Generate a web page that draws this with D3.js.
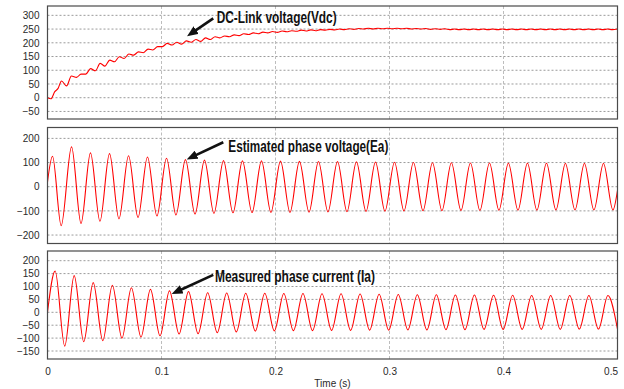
<!DOCTYPE html>
<html>
<head>
<meta charset="utf-8">
<script src="https://cdn.jsdelivr.net/npm/d3@7"></script>
<style>
  body { margin: 0; background: #fff; }
  svg { display: block; }
  text { font-family: "Liberation Sans Narrow", "Arial Narrow", "Liberation Sans", sans-serif; }
</style>
</head>
<body>
<div id="chart"></div>
<script>
// ---- data (time in s) ----
const xTicks = [0, 0.1, 0.2, 0.3, 0.4, 0.5];
const xTitle = 'Time (s)';

// DC-link voltage: ripple peaks and troughs
const vdcTime = [0, 0.0030, 0.0064, 0.0093, 0.0123, 0.0167, 0.0210, 0.0255, 0.0294, 0.0336,
  0.0378, 0.0420, 0.0462, 0.0504, 0.0546, 0.0588, 0.0630, 0.0672, 0.0714, 0.0756,
  0.0798, 0.0840, 0.0882, 0.0924, 0.0966, 0.1008, 0.1050, 0.1092, 0.1134, 0.1176,
  0.1218, 0.1260, 0.1302, 0.1344, 0.1386, 0.1428, 0.1470, 0.1512, 0.1554, 0.1596,
  0.1638, 0.1680, 0.1722, 0.1764, 0.1806, 0.1848, 0.1890, 0.1932, 0.1974, 0.2016,
  0.2058, 0.2100, 0.2142, 0.2184, 0.2226, 0.2268, 0.2310, 0.2352, 0.2394, 0.2436,
  0.2478, 0.2520, 0.2562, 0.2604, 0.2646, 0.2688, 0.2730, 0.2772, 0.2814, 0.2856,
  0.2898, 0.2940, 0.2982, 0.3024, 0.3066, 0.3108, 0.3150, 0.3192, 0.3234, 0.3276,
  0.3318, 0.3360, 0.3402, 0.3444, 0.3486, 0.3528, 0.3570, 0.3612, 0.3654, 0.3696,
  0.3738, 0.3780, 0.3822, 0.3864, 0.3906, 0.3948, 0.3990, 0.4032, 0.4074, 0.4116,
  0.4158, 0.4200, 0.4242, 0.4284, 0.4326, 0.4368, 0.4410, 0.4452, 0.4494, 0.4536,
  0.4578, 0.4620, 0.4662, 0.4704, 0.4746, 0.4788, 0.4830, 0.4872, 0.4914, 0.4956, 0.4998];
const vdcValue = [0, -4, 22, 34, 61, 43, 79, 74, 86, 86,
  106, 98, 125, 115, 137, 131, 149, 143, 159, 155,
  167, 164, 177, 174, 186, 186, 198, 192, 202, 195,
  207, 202, 212, 205, 218, 212, 222, 218, 225, 222,
  229, 226, 233, 230, 236, 233, 239, 236, 241, 238,
  243, 240, 244, 242, 246, 243, 247, 244, 248, 246,
  249, 247, 250, 248, 251, 249, 252, 250, 253, 250,
  253, 251, 253, 251, 253, 251, 253, 250, 252, 250,
  252, 249, 251, 249, 251, 248, 250, 248, 250, 248,
  250, 248, 250, 248, 250, 248, 250, 248, 250, 248,
  250, 248, 250, 248, 250, 248, 250, 248, 250, 248,
  250, 248, 250, 248, 250, 248, 250, 248, 250, 248, 250];
const vdcTicks = [300, 250, 200, 150, 100, 50, 0, -50];

// estimated phase voltage: start, alternating peaks / troughs, end
const eaTime = [0, 0.0044, 0.0120, 0.0211, 0.0294, 0.0377, 0.0460, 0.0544, 0.0627, 0.0711, 0.0794,
  0.0877, 0.0960, 0.1044, 0.1127, 0.1210, 0.1294, 0.1377, 0.1460, 0.1544, 0.1627,
  0.1710, 0.1794, 0.1877, 0.1960, 0.2044, 0.2127, 0.2210, 0.2294, 0.2377, 0.2460,
  0.2544, 0.2627, 0.2710, 0.2794, 0.2877, 0.2960, 0.3044, 0.3127, 0.3210, 0.3294,
  0.3377, 0.3460, 0.3543, 0.3627, 0.3710, 0.3793, 0.3877, 0.3960, 0.4043, 0.4127,
  0.4210, 0.4293, 0.4377, 0.4460, 0.4543, 0.4627, 0.4710, 0.4793, 0.4877, 0.4960, 0.5];
const eaValue = [20, 126, -161, 165, -152, 140, -143, 137, -133, 128, -127,
  123, -121, 118, -117, 112, -113, 110, -110, 108, -108,
  107, -107, 107, -106, 106, -106, 105, -105, 104, -104,
  104, -103, 103, -102, 102, -101, 101, -100, 100, -99,
  99, -99, 99, -98, 98, -98, 98, -97, 97, -97,
  97, -97, 97, -96, 96, -96, 96, -96, 96, -96, -15];
const eaTicks = [200, 100, 0, -100, -200];

// measured phase current: start, alternating peaks / troughs
const iaTime = [0, 0.0067, 0.0151, 0.0234, 0.0318, 0.0401, 0.0485, 0.0569, 0.0653, 0.0736, 0.0820,
  0.0903, 0.0987, 0.1070, 0.1154, 0.1237, 0.1321, 0.1405, 0.1489, 0.1572, 0.1656,
  0.1739, 0.1823, 0.1906, 0.1990, 0.2073, 0.2157, 0.2241, 0.2325, 0.2408, 0.2492,
  0.2575, 0.2659, 0.2742, 0.2826, 0.2909, 0.2993, 0.3077, 0.3161, 0.3244, 0.3328,
  0.3411, 0.3495, 0.3578, 0.3662, 0.3745, 0.3829, 0.3913, 0.3997, 0.4080, 0.4164,
  0.4247, 0.4331, 0.4414, 0.4498, 0.4581, 0.4665, 0.4749, 0.4833, 0.4916, 0.5000];
const iaValue = [0, 160, -131, 142, -114, 115, -110, 105, -100, 95, -96,
  89, -91, 83, -84, 80, -83, 76, -79, 75, -76,
  74, -73, 74, -72, 73, -71, 73, -71, 72, -70,
  72, -70, 71, -69, 70, -69, 69, -68, 68, -68,
  68, -67, 67, -67, 67, -66, 66, -66, 66, -66,
  65, -66, 65, -66, 65, -65, 65, -65, 65, -65];
const iaTicks = [200, 150, 100, 50, 0, -50, -100, -150];

const labels = ['DC-Link voltage(Vdc)', 'Estimated phase voltage(Ea)', 'Measured phase current (Ia)'];

// ---- layout ----
const width = 624;
const height = 389;
const left = 47.5;
const right = 617.5;

const panels = [
  { top: 6, bottom: 119, domain: [-77.5, 334], ticks: vdcTicks, t: vdcTime, v: vdcValue,
    note: { text: labels[0], tail: [0.1454, 289], tip: [0.1224, 224], at: [0.1484, 271], len: 120 } },
  { top: 127.5, bottom: 243.5, domain: [-235, 245], ticks: eaTicks, t: eaTime, v: eaValue,
    note: { text: labels[1], tail: [0.1542, 184], tip: [0.1221, 113], at: [0.1586, 143], len: 160 } },
  { top: 251, bottom: 359, domain: [-181, 237.6], ticks: iaTicks, t: iaTime, v: iaValue,
    note: { text: labels[2], tail: [0.1454, 145], tip: [0.1089, 71], at: [0.1469, 119], len: 160 } },
];

const svg = d3.select('#chart').append('svg')
  .attr('width', width)
  .attr('height', height);

const defs = svg.append('defs');
defs.append('marker')
  .attr('id', 'head')
  .attr('markerUnits', 'userSpaceOnUse')
  .attr('viewBox', '0 0 11 9')
  .attr('markerWidth', 11)
  .attr('markerHeight', 9)
  .attr('refX', 11)
  .attr('refY', 4.5)
  .attr('orient', 'auto')
  .append('path')
  .attr('d', 'M0,0L11,4.5L0,9Z')
  .attr('fill', '#111');

const x = d3.scaleLinear().domain([0, 0.5]).range([left, right]);

panels.forEach((p, i) => {
  const y = d3.scaleLinear().domain(p.domain).range([p.bottom, p.top]);
  const g = svg.append('g');

  defs.append('clipPath').attr('id', `clip${i}`)
    .append('rect')
    .attr('x', left).attr('y', p.top)
    .attr('width', right - left).attr('height', p.bottom - p.top);

  // horizontal grid
  g.append('g').selectAll('line')
    .data(p.ticks)
    .join('line')
    .attr('x1', left).attr('x2', right)
    .attr('y1', (d) => y(d)).attr('y2', (d) => y(d))
    .attr('stroke', '#9a9a9a')
    .attr('stroke-width', 1)
    .attr('stroke-dasharray', '2,2');

  // vertical grid
  g.append('g').selectAll('line')
    .data(xTicks.slice(1, -1))
    .join('line')
    .attr('x1', (d) => x(d)).attr('x2', (d) => x(d))
    .attr('y1', p.top).attr('y2', p.bottom)
    .attr('stroke', '#bdbdbd')
    .attr('stroke-width', 1)
    .attr('stroke-dasharray', '3,2');

  // y axis labels
  const ya = g.append('g')
    .attr('transform', `translate(${left},0)`)
    .call(d3.axisLeft(y).tickValues(p.ticks).tickSize(0).tickPadding(8));
  ya.select('.domain').remove();
  ya.selectAll('text').attr('font-size', 10).attr('fill', '#2a2a2a')
    .style('font-family', '"Liberation Sans Narrow", "Arial Narrow", sans-serif');

  // trace
  const pts = p.t.map((t, k) => [t, p.v[k]]);
  const line = d3.line()
    .x((d) => x(d[0]))
    .y((d) => y(d[1]))
    .curve(d3.curveMonotoneX);
  g.append('path')
    .datum(pts)
    .attr('clip-path', `url(#clip${i})`)
    .attr('fill', 'none')
    .attr('stroke', '#ff0000')
    .attr('stroke-width', 1.1)
    .attr('d', line);

  // frame
  g.append('rect')
    .attr('x', left).attr('y', p.top)
    .attr('width', right - left).attr('height', p.bottom - p.top)
    .attr('fill', 'none')
    .attr('stroke', '#4a4a4a')
    .attr('stroke-width', 1.2);

  // annotation arrow and label
  const n = p.note;
  const x1 = x(n.tail[0]); const y1 = y(n.tail[1]);
  const x2 = x(n.tip[0]); const y2 = y(n.tip[1]);
  const dl = Math.hypot(x2 - x1, y2 - y1);
  g.append('line')
    .attr('x1', x1).attr('y1', y1)
    .attr('x2', x2 - ((x2 - x1) / dl) * 6).attr('y2', y2 - ((y2 - y1) / dl) * 6)
    .attr('stroke', '#111')
    .attr('stroke-width', 2.6);
  g.append('line')
    .attr('x1', x2 - ((x2 - x1) / dl) * 11).attr('y1', y2 - ((y2 - y1) / dl) * 11)
    .attr('x2', x2).attr('y2', y2)
    .attr('stroke', 'none')
    .attr('marker-end', 'url(#head)');
  g.append('text')
    .attr('x', x(n.at[0]))
    .attr('y', y(n.at[1]))
    .attr('font-size', 16)
    .attr('font-weight', 'bold')
    .attr('fill', '#111')
    .attr('textLength', n.len)
    .attr('lengthAdjust', 'spacingAndGlyphs')
    .text(n.text);

  // x axis labels on the bottom panel
  if (i === panels.length - 1) {
    const xa = svg.append('g')
      .attr('transform', `translate(0,${p.bottom})`)
      .call(d3.axisBottom(x).tickValues(xTicks).tickSize(0).tickPadding(9)
        .tickFormat((d) => (d === 0 ? '0' : d3.format('.1f')(d))));
    xa.select('.domain').remove();
    xa.selectAll('text').attr('font-size', 10).attr('fill', '#2a2a2a')
      .style('font-family', '"Liberation Sans Narrow", "Arial Narrow", sans-serif');
    xa.selectAll('text').filter((d) => d === 0.5).attr('text-anchor', 'end');
    svg.append('text')
      .attr('x', (left + right) / 2)
      .attr('y', 386.5)
      .attr('text-anchor', 'middle')
      .attr('font-size', 10)
      .attr('fill', '#2a2a2a')
      .text(xTitle);
  }
});
</script>
</body>
</html>
